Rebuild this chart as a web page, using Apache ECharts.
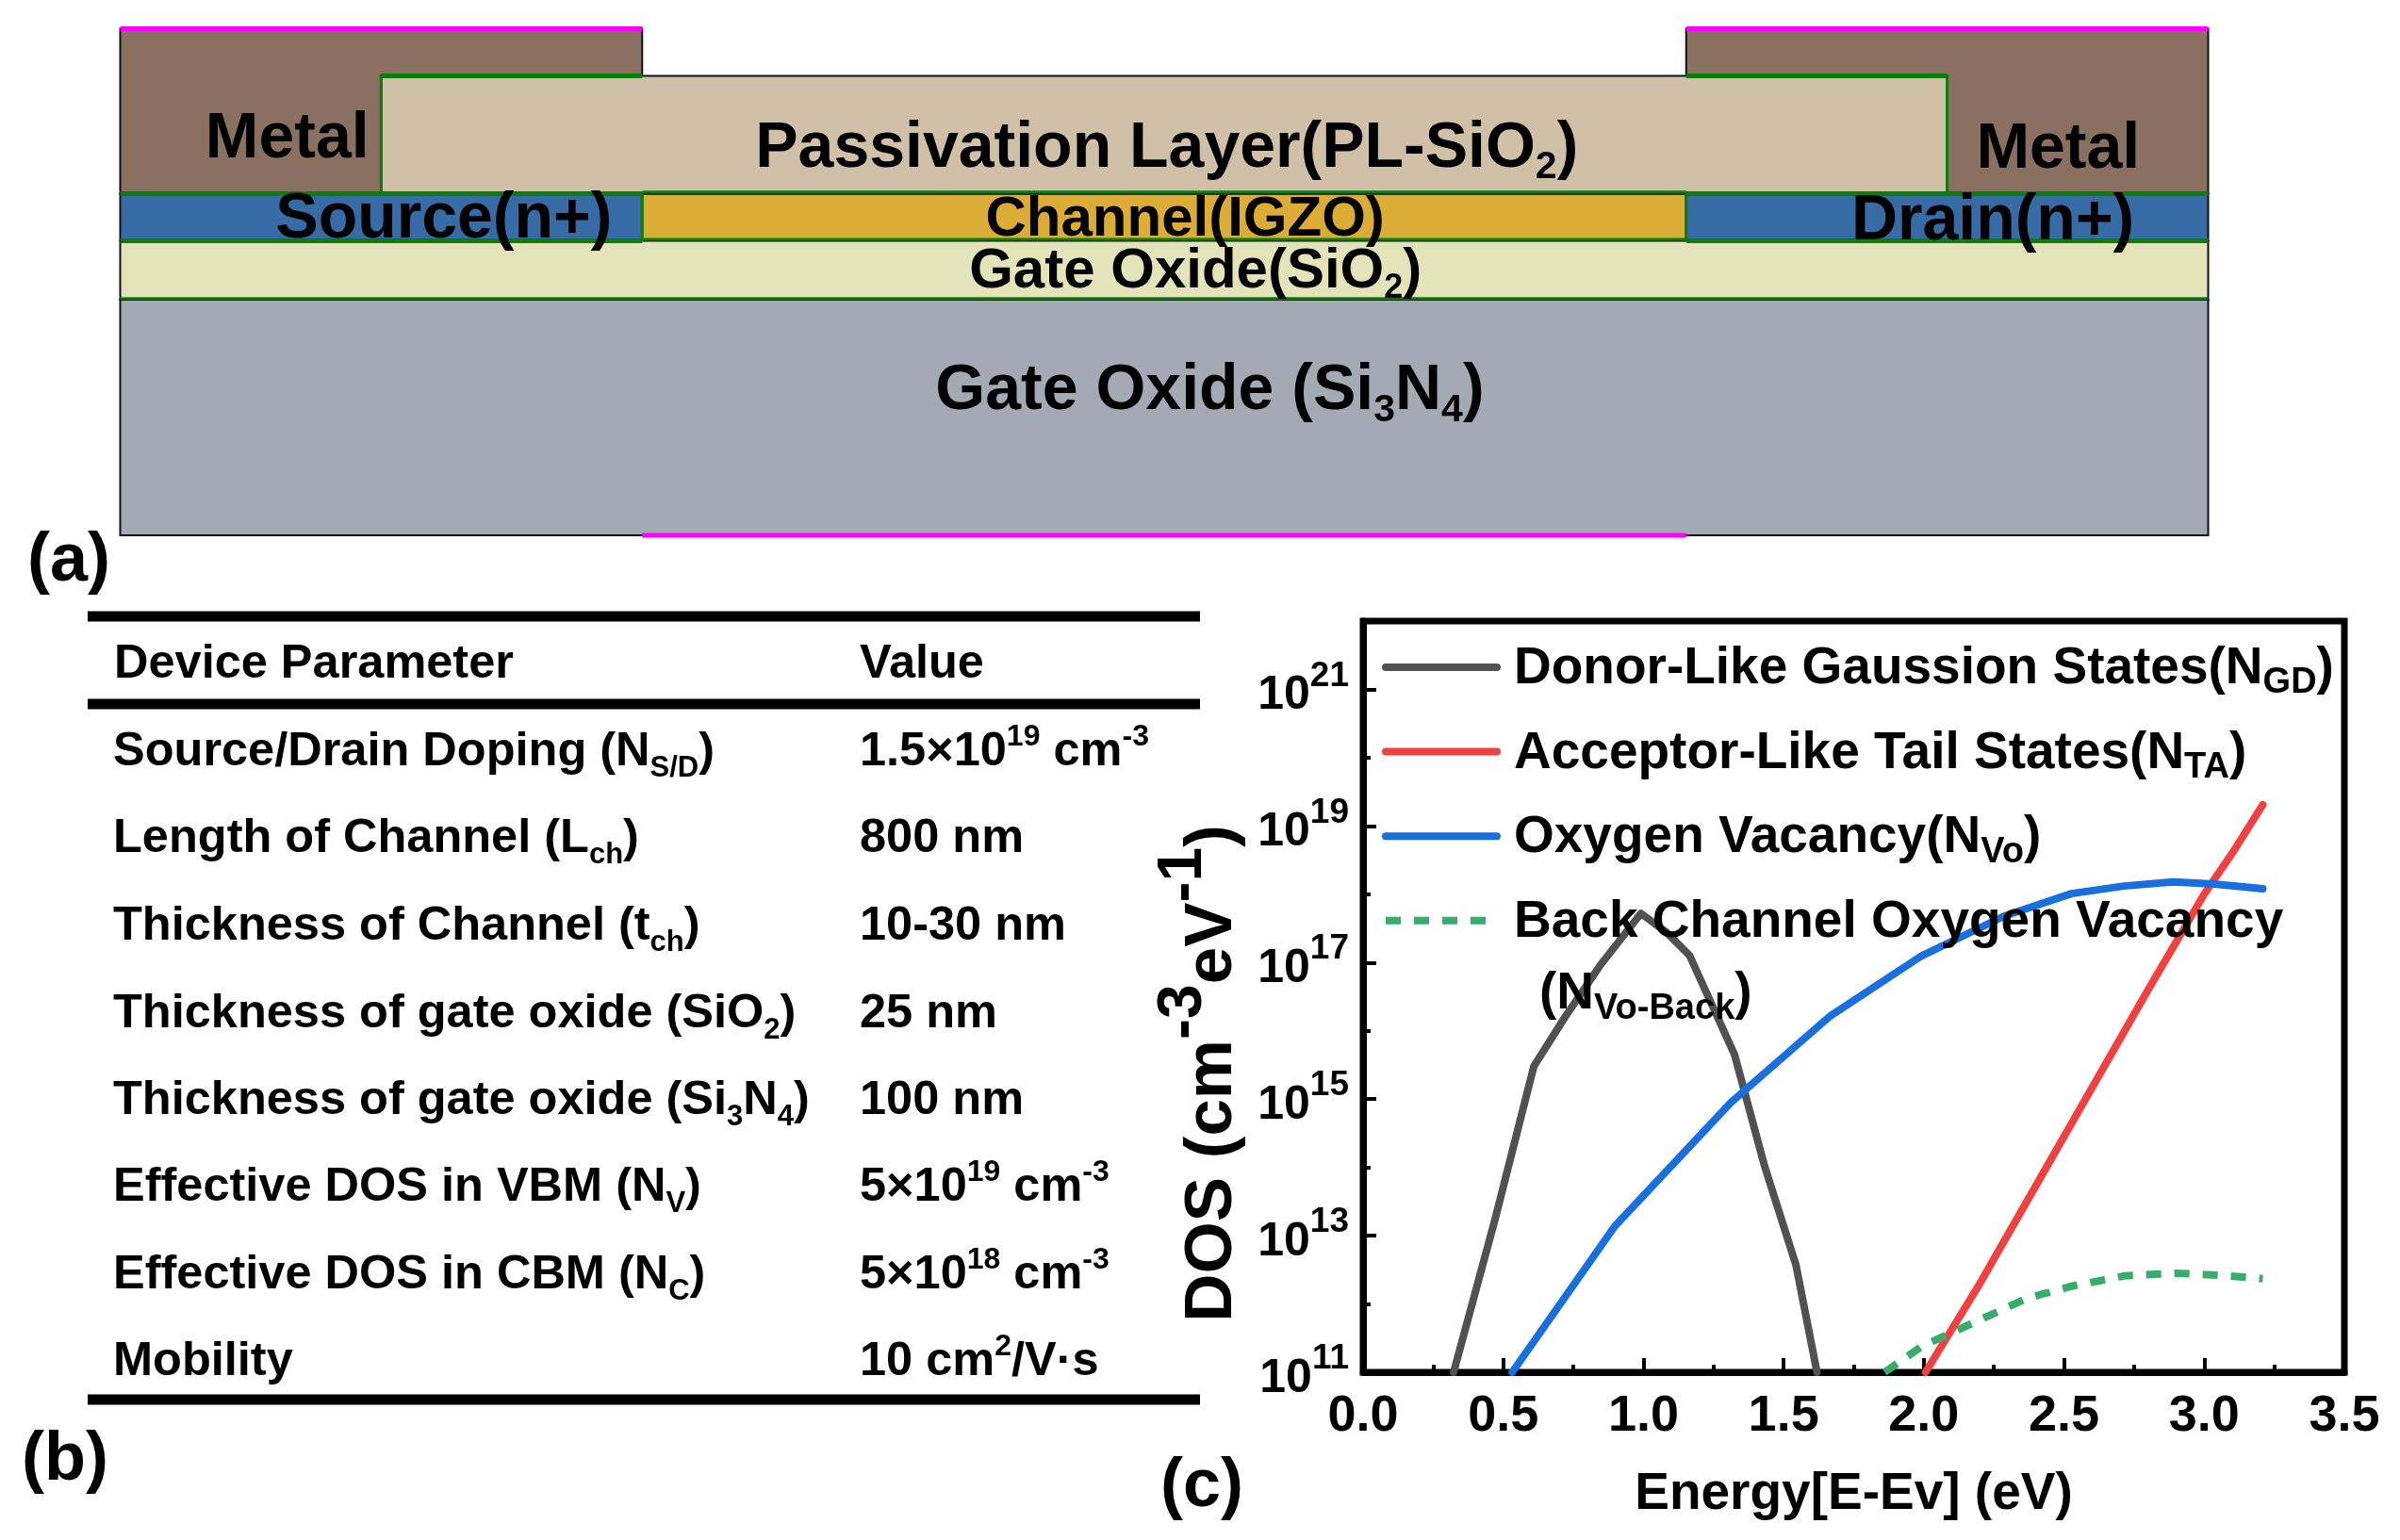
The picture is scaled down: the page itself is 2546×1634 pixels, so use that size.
<!DOCTYPE html>
<html><head><meta charset="utf-8">
<style>html,body{margin:0;padding:0;background:#fff}#c{width:2546px;height:1634px}</style>
<script src="https://cdn.jsdelivr.net/npm/echarts@6/dist/echarts.min.js"></script>
</head><body><div id="c"></div>
<script>
// ---------- (c) density of states, energies in eV, values as log10(cm^-3 eV^-1)
const grayE  = [0.323,0.47,0.609,0.72,0.844,0.991,1.08,1.165,1.325,1.432,1.544,1.619];
const grayL  = [11,13.23,15.48,16.2,16.95,17.72,17.45,17.1,15.65,14.02,12.57,11];
const redE   = [2.006,2.2,2.5,2.8,3.0,3.1,3.209];
const redL   = [11,12.3,14.45,16.6,18.0,18.6,19.31];
const blueE  = [0.532,0.898,1.312,1.667,1.993,2.287,2.527,2.714,2.888,3.035,3.209];
const blueL  = [11,13.14,14.95,16.22,17.1,17.68,18.01,18.12,18.18,18.15,18.08];
const greenE = [1.86,1.993,2.18,2.367,2.527,2.714,2.9,3.06,3.209];
const greenL = [11,11.38,11.73,12.08,12.26,12.41,12.45,12.42,12.37];
const seriesNames = ['Donor-Like Gaussion States','Acceptor-Like Tail States','Oxygen Vacancy','Back Channel Oxygen Vacancy'];
const legendText = [
  '{p|}{a|Donor-Like Gaussion States(N}{s|GD}{a|)}',
  '{p|}{a|Acceptor-Like Tail States(N}{s|TA}{a|)}',
  '{p|}{a|Oxygen Vacancy(N}{s|Vo}{a|)}',
  '{p|}{a|Back Channel Oxygen Vacancy}{s|\u200b}'];
const seriesColors = ['#515151','#F14040','#1A6FDF','#37AD6B'];

// ---------- (a) device cross-section, in nm
const layerX0 = [0,1200,0,400,1200,200,0,0];
const layerX1 = [400,1600,400,1200,1600,1400,1600,1600];
const layerY0 = [145,145,125,125,125,145,100,0];
const layerY1 = [215,215,145,145,145,195,125,100];
const layerFill = ['#8A7060','#8A7060','#376BA6','#DBAC36','#376BA6','#D1C0A8','#E3E4B9','#A3AAB4'];
const edgeA = [[0,145,400,145],[1200,145,1600,145],[0,125,400,125],[1200,125,1600,125],[200,195,400,195],[1200,195,1400,195],[200,145,200,195],[1400,145,1400,195],[400,125,400,145],[1200,125,1200,145],[400,145.7,1200,145.7],[400,125.6,1200,125.6],[0,100.5,1600,100.5]];
const electrodes = [[0,215,400,215],[1200,215,1600,215],[400,0,1200,0]];
const deviceLabels = [
  [128,168,'Metal'],[1485,163.5,'Metal'],
  [802,164,'Passivation Layer(PL-SiO{ds|2}{d|)}'],
  [248,134,'Source(n+)'],[816,134,'Channel(IGZO)',60],[1435,133,'Drain(n+)'],
  [824,112,'Gate Oxide(SiO{cs|2}{c|)}',60],
  [835,61,'Gate Oxide (Si{ds|3}{d|N}{ds|4}{d|)}']];

// ---------- (b) table
const tableHeader = ['Device Parameter','Value'];
const tableParams = ['Source/Drain Doping (N{s|S/D}{t|)}','Length of Channel (L{s|ch}{t|)}','Thickness of Channel (t{s|ch}{t|)}','Thickness of gate oxide (SiO{s|2}{t|)}','Thickness of gate oxide (Si{s|3}{t|N}{s|4}{t|)}','Effective DOS in VBM (N{s|V}{t|)}','Effective DOS in CBM (N{s|C}{t|)}','Mobility'];
const tableValues = ['1.5×10{u|19}{t| cm}{u|-3}','800 nm','10-30 nm','25 nm','100 nm','5×10{u|19}{t| cm}{u|-3}','5×10{u|18}{t| cm}{u|-3}','10 cm{u|2}{t|/V·s}'];
const tableRowY = [798,890,983,1076,1168,1260,1353,1445];

const FF = '"Liberation Sans", Arial, sans-serif';
const bold = s => `bold ${s}px ${FF}`;
const pts = (e,l) => e.map((x,i)=>[x,Math.pow(10,l[i])]);
const chart = echarts.init(document.getElementById('c'),null,{renderer:'canvas'});

const tableRich = {
  t:{font:bold(50.5),lineHeight:70,fill:'#000',color:'#000'},
  s:{font:bold(31),lineHeight:30,padding:[34,0,0,0],fill:'#000',color:'#000'},
  u:{font:bold(32),lineHeight:30,padding:[0,0,32,0],fill:'#000',color:'#000'}
};
const T = (x,y,txt,size,rich,extra) => Object.assign({type:'text',z:10,style:Object.assign({x,y,text:txt,font:bold(size),fill:'#000',textAlign:'left',textVerticalAlign:'middle',verticalAlign:'middle',rich})},extra||{});
const fixT = s => { // make sure leading plain text is a rich token
  const i=s.indexOf('{'); if(i<0) return '{t|'+s+'}'; return '{t|'+s.slice(0,i)+'}'+s.slice(i);
};
const graphics = [];
[654,747,1485].forEach(y=>graphics.push({type:'rect',z:9,shape:{x:93,y:y-5.5,width:1180,height:11},style:{fill:'#000'}}));
graphics.push(T(121,705,fixT(tableHeader[0]),50.5,tableRich));
graphics.push(T(912,705,fixT(tableHeader[1]),50.5,tableRich));
tableParams.forEach((p,i)=>graphics.push(T(120,tableRowY[i],fixT(p),50.5,tableRich)));
tableValues.forEach((p,i)=>graphics.push(T(912,tableRowY[i],fixT(p),50.5,tableRich)));
graphics.push(T(29,596,'(a)',72));
graphics.push(T(23,1550,'(b)',72));
graphics.push(T(1231,1578,'(c)',72));
graphics.push(T(1633,1055,'{a|(N}{s|Vo-Back}{a|)}',55,{
  a:{font:bold(55),lineHeight:60,fill:'#000'},
  s:{font:bold(38),lineHeight:36,padding:[32,0,0,0],fill:'#000'}}));

const devRich = sz => ({
  d:{font:bold(68),lineHeight:80,fill:'#000'},
  ds:{font:bold(41),lineHeight:40,padding:[40,0,0,0],fill:'#000'},
  c:{font:bold(60),lineHeight:70,fill:'#000'},
  cs:{font:bold(36),lineHeight:36,padding:[36,0,0,0],fill:'#000'}
});

const option = {
  backgroundColor:'#fff',
  animation:false,
  graphic:graphics,
  grid:[
    {left:127.5,top:30.5,width:2215,height:537.5,show:false},
    {left:1446,top:659,width:1041,height:797,show:true,borderColor:'#000',borderWidth:7,backgroundColor:'transparent'}
  ],
  xAxis:[
    {gridIndex:0,type:'value',min:0,max:1600,show:false},
    {gridIndex:1,type:'value',min:0,max:3.5,interval:0.5,
     axisLine:{show:true,lineStyle:{color:'#000',width:7}},
     axisTick:{show:true,inside:true,length:15,lineStyle:{color:'#000',width:4}},
     minorTick:{show:true,splitNumber:2,length:8,lineStyle:{color:'#000',width:4}},
     splitLine:{show:false},
     axisLabel:{margin:20,color:'#000',fontFamily:FF,fontWeight:'bold',fontSize:54,formatter:v=>v.toFixed(1),showMaxLabel:true,showMinLabel:true,hideOverlap:false},
     name:'Energy[E-Ev] (eV)',nameLocation:'middle',nameGap:102,nameTextStyle:{color:'#000',fontFamily:FF,fontWeight:'bold',fontSize:55}}
  ],
  yAxis:[
    {gridIndex:0,type:'value',min:0,max:215,show:false},
    {gridIndex:1,type:'log',logBase:10,min:1e11,max:1e22,interval:2,position:'left',
     axisLine:{show:true,lineStyle:{color:'#000',width:7}},
     axisTick:{show:true,inside:true,length:14,lineStyle:{color:'#000',width:4}},
     splitLine:{show:false},minorTick:{show:false},minorSplitLine:{show:false},
     axisLabel:{margin:15,color:'#000',fontFamily:FF,fontWeight:'bold',fontSize:50,
       formatter:v=>{const e=Math.round(Math.log10(v));return (e%2===1)?`{b|10}{e|${e}}`:'';},
       rich:{b:{fontFamily:FF,fontWeight:'bold',fontSize:50,color:'#000',padding:[14,0,0,0]},
             e:{fontFamily:FF,fontWeight:'bold',fontSize:37,color:'#000',padding:[0,0,28,0]}}},
     name:'{m|DOS (cm}{x|-3}{m|eV}{x|-1}{m|)}{g|}',nameLocation:'middle',nameRotate:90,nameGap:125,nameMoveOverlap:false,
     nameTextStyle:{color:'#000',rich:{
       g:{width:163},
       m:{fontFamily:FF,fontWeight:'bold',fontSize:71,color:'#000',lineHeight:70},
       x:{fontFamily:FF,fontWeight:'bold',fontSize:66,color:'#000',lineHeight:40,padding:[0,0,60,0]}}}},
    // every-decade minor ticks of the same log scale
    {gridIndex:1,type:'log',logBase:10,min:1e11,max:1e22,interval:1,position:'left',
     axisLine:{show:false},axisLabel:{show:false},splitLine:{show:false},minorTick:{show:false},
     axisTick:{show:true,inside:true,length:8,lineStyle:{color:'#000',width:4}}}
  ],
  legend:{
    orient:'vertical',left:1461,top:667,itemWidth:118,itemHeight:12,itemGap:17.6,
    data:seriesNames,selectedMode:false,
    lineStyle:{width:8},itemStyle:{opacity:0},
    formatter:n=>legendText[seriesNames.indexOf(n)],
    textStyle:{color:'#000',rich:{
      p:{width:13},
      a:{fontFamily:FF,fontWeight:'bold',fontSize:55,color:'#000',lineHeight:56,padding:[4,0,0,0]},
      s:{fontFamily:FF,fontWeight:'bold',fontSize:38,color:'#000',lineHeight:26,padding:[34,0,0,0]}}}
  },
  series:[
    {type:'custom',xAxisIndex:0,yAxisIndex:0,z:2,silent:true,
     data:layerX0.map((_,i)=>[layerX0[i],layerX1[i],layerY0[i],layerY1[i],i]),
     renderItem:(p,api)=>{
       const a=api.coord([api.value(0),api.value(3)]),b=api.coord([api.value(1),api.value(2)]);
       return {type:'rect',shape:{x:a[0],y:a[1],width:b[0]-a[0],height:b[1]-a[1]},style:{fill:layerFill[api.value(4)],stroke:'#111',lineWidth:2}};
     }},
    {type:'custom',xAxisIndex:0,yAxisIndex:0,z:3,silent:true,data:edgeA,
     renderItem:(p,api)=>{
       const a=api.coord([api.value(0),api.value(1)]),b=api.coord([api.value(2),api.value(3)]);
       return {type:'line',shape:{x1:a[0],y1:a[1],x2:b[0],y2:b[1]},style:{stroke:'#0A7D0A',lineWidth:(p.dataIndex>=6)?3:5}};
     }},
    {type:'custom',xAxisIndex:0,yAxisIndex:0,z:4,silent:true,data:electrodes,clip:false,
     renderItem:(p,api)=>{
       const a=api.coord([api.value(0),api.value(1)]),b=api.coord([api.value(2),api.value(3)]);
       return {type:'line',shape:{x1:a[0],y1:a[1],x2:b[0],y2:b[1]},style:{stroke:'#FF00FF',lineWidth:5}};
     }},
    {type:'custom',xAxisIndex:0,yAxisIndex:0,z:5,silent:true,clip:false,
     data:deviceLabels.map(d=>[d[0],d[1]]),
     renderItem:(p,api)=>{
       const d=deviceLabels[p.dataIndex],c=api.coord([d[0],d[1]]),sz=d[3]||68;
       const tok=sz===60?'c':'d';
       const i=d[2].indexOf('{');
       const txt=i<0?`{${tok}|${d[2]}}`:`{${tok}|${d[2].slice(0,i)}}${d[2].slice(i)}`;
       return {type:'text',style:{x:c[0],y:c[1],text:txt,rich:devRich(sz),font:bold(sz),fill:'#000',textAlign:'center',verticalAlign:'middle',textVerticalAlign:'middle'}};
     }},
    ...[[grayE,grayL],[redE,redL],[blueE,blueL],[greenE,greenL]].map(([e,l],i)=>({
      type:'line',name:seriesNames[i],xAxisIndex:1,yAxisIndex:1,data:pts(e,l),showSymbol:false,symbol:'none',
      itemStyle:{color:seriesColors[i]},z:2,clip:true,
      lineStyle:{color:seriesColors[i],width:8,cap:i===3?'butt':'round',join:'round',type:i===3?[16,14]:'solid'}
    }))
  ]
};
chart.setOption(option);
</script></body></html>
